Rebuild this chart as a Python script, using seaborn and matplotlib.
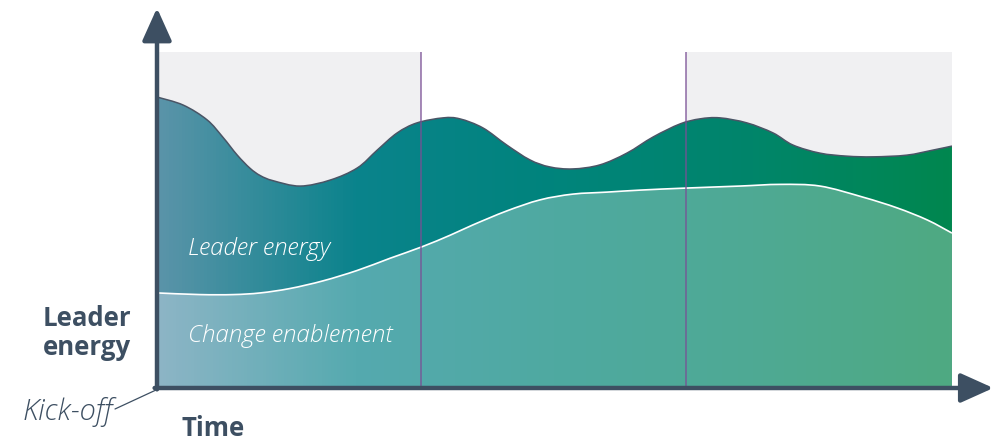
import numpy as np
import matplotlib
matplotlib.use("Agg")
import matplotlib.pyplot as plt
import seaborn as sns
from matplotlib.colors import LinearSegmentedColormap
from matplotlib.path import Path
from matplotlib.patches import PathPatch

# leader energy (upper curve)
leader_time = [0, 3.3, 6.3, 8.3, 10.1, 11.7, 13.0, 14.6, 18.0, 21.8, 25.2, 27.7,
               30.2, 32.7, 36.0, 38.1, 41.0, 44.0, 46.9, 49.4, 52.3, 55.7, 59.1,
               62.4, 65.8, 68.3, 70.8, 74.2, 77.5, 80.0, 83.4, 86.8, 90.1, 94.3,
               97.6, 100]
leader_energy = [86.6, 84.2, 79.8, 74.6, 69.3, 65.4, 63.2, 61.7, 60.1, 61.9, 65.5,
                 70.8, 75.9, 78.9, 80.4, 80.1, 77.4, 72.3, 67.9, 65.8, 65.2, 66.4,
                 69.9, 74.7, 78.6, 80.1, 80.4, 78.9, 75.9, 72.3, 69.9, 69.0, 68.8,
                 69.3, 70.8, 72.0]

# change enablement (lower curve)
change_time = [0, 5.4, 9.6, 13.0, 16.7, 20.9, 25.2, 29.3, 33.3, 36.9, 39.7, 44.0,
               48.2, 52.3, 56.6, 60.8, 66.5, 73.3, 78.4, 83.4, 88.8, 93.1, 96.9, 100]
change_energy = [28.3, 27.8, 27.8, 28.3, 29.6, 31.9, 35.0, 38.6, 42.0, 45.5, 48.5,
                 52.7, 56.0, 57.7, 58.3, 58.9, 59.5, 60.1, 60.6, 60.1, 56.8, 53.6,
                 50.0, 46.1]

phase_bounds = [33.2, 66.5]
grey_spans = [(0, 33.2), (66.5, 100)]

top_colors = ["#5b94a9", "#0a838c", "#00847c", "#00856a", "#00874f"]
bottom_colors = ["#8db5c6", "#55aaaf", "#4fa9a1", "#4ea994", "#4fa982"]

ink = "#3d4f62"


def curve_path(x, y, closed=False):
    """Smooth (Catmull-Rom) bezier path through the read points."""
    pts = np.column_stack([x, y]).astype(float)
    verts = [pts[0]]
    codes = [Path.MOVETO]
    n = len(pts)
    for i in range(n - 1):
        p0 = pts[max(i - 1, 0)]
        p1 = pts[i]
        p2 = pts[i + 1]
        p3 = pts[min(i + 2, n - 1)]
        verts += [p1 + (p2 - p0) / 6, p2 - (p3 - p1) / 6, p2]
        codes += [Path.CURVE4] * 3
    if closed:
        verts += [(pts[-1, 0], 0), (pts[0, 0], 0), pts[0]]
        codes += [Path.LINETO, Path.LINETO, Path.CLOSEPOLY]
    return Path(verts, codes)


sns.set_theme(style="white")
plt.rcParams["font.family"] = ["Open Sans", "DejaVu Sans"]

fig = plt.figure(figsize=(9.94, 4.4), dpi=100)
ax = fig.add_axes([157 / 994, (440 - 388) / 440, 795 / 994, 336 / 440])
ax.axis("off")

# background bands
for a, b in grey_spans:
    ax.axvspan(a, b, color="#f0f0f2", lw=0, zorder=0)


def gradient_fill(x, y, colors, z):
    clip = PathPatch(curve_path(x, y, closed=True), facecolor="none", lw=0,
                     transform=ax.transData)
    ax.add_patch(clip)
    cmap = LinearSegmentedColormap.from_list("g", colors)
    im = ax.imshow(np.linspace(0, 1, 256).reshape(1, -1), extent=[0, 100, 0, 100],
                   aspect="auto", cmap=cmap, zorder=z, origin="lower")
    im.set_clip_path(clip)


gradient_fill(leader_time, leader_energy, top_colors, 1)
gradient_fill(change_time, change_energy, bottom_colors, 2)

ax.add_patch(PathPatch(curve_path(leader_time, leader_energy), fill=False,
                       edgecolor="#4a5566", lw=1.1, zorder=3))
ax.add_patch(PathPatch(curve_path(change_time, change_energy), fill=False,
                       edgecolor="white", lw=1.2, zorder=3))
ax.plot([100, 100], [0, leader_energy[-1]], color="#7d8a96", lw=0.8, zorder=3)

ax.set_xlim(0, 100)
ax.set_ylim(0, 100)

for xb in phase_bounds:
    ax.axvline(xb, ymin=0, ymax=1, color="#7a4f95", lw=1.1, alpha=0.85, zorder=4)

# axis arrows
arrow = dict(arrowstyle="-|>,head_length=1.0,head_width=0.45", color=ink, lw=3.2,
             shrinkA=0, shrinkB=0, mutation_scale=20)
ax.annotate("", xy=(0, 1.131), xytext=(0, -0.004), xycoords="axes fraction",
            arrowprops=arrow, annotation_clip=False, zorder=6)
ax.annotate("", xy=(1.052, 0), xytext=(-0.003, 0), xycoords="axes fraction",
            arrowprops=arrow, annotation_clip=False, zorder=6)

ax.text(3.9, 41.5, "Leader energy", color="white", style="italic", fontsize=17.5,
        fontweight="light", va="center", ha="left", zorder=5)
ax.text(3.9, 15.5, "Change enablement", color="white", style="italic", fontsize=17.5,
        fontweight="light", va="center", ha="left", zorder=5)

fig.text(131 / 994, 1 - 333 / 440, "Leader\nenergy", color=ink, fontsize=18.5,
         fontweight="bold", ha="right", va="center", linespacing=1.05)
fig.text(181 / 994, 1 - 428 / 440, "Time", color=ink, fontsize=18.5,
         fontweight="bold", ha="left", va="center")
fig.text(113 / 994, 1 - 412 / 440, "Kick-off", color=ink, fontsize=21,
         style="italic", fontweight="light", ha="right", va="center")
fig.add_artist(plt.Line2D([115 / 994, 156 / 994], [1 - 409 / 440, 1 - 390 / 440],
                          color=ink, lw=0.9))

fig.savefig("out.png", dpi=100)
